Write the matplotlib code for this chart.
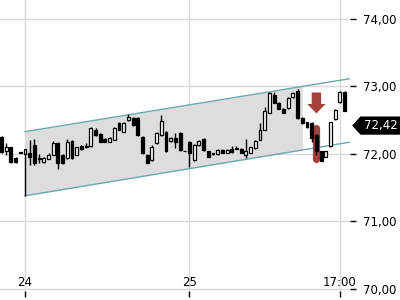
import matplotlib
matplotlib.use('Agg')
import matplotlib.pyplot as plt
from matplotlib.patches import Polygon
from matplotlib.ticker import FuncFormatter

# candle slots (one slot per bar, slot 0 = start of day 24)
slots = [-5, -4, -3, -2, -1] + list(range(0, 69))

opens = [72.25, 72.04, 72.10, 71.94, 72.03,
         72.00, 72.01, 72.13, 71.94, 71.88, 71.93, 71.99, 72.16, 71.99, 71.94,
         72.19, 71.99, 72.12, 72.12, 72.12, 72.36, 72.30, 72.22, 72.18, 72.21,
         72.46, 72.33, 72.50, 72.53, 72.53, 72.25, 71.99, 71.91, 72.16, 72.28,
         72.33, 72.19, 72.24, 72.31, 72.05, 72.18, 71.91, 72.13, 72.22, 72.04,
         72.01, 72.00, 72.06, 72.02, 72.08, 72.09, 72.08, 71.98, 72.02, 72.09,
         72.21, 72.36, 72.61, 72.87, 72.76, 72.67, 72.68, 72.84, 72.93, 72.53,
         72.47, 72.46, 72.28, 72.04, 71.96, 72.12, 72.52, 72.77, 72.92]
closes = [72.03, 72.10, 71.88, 71.88, 72.02,
          72.07, 71.96, 71.87, 71.92, 71.94, 71.99, 72.16, 71.87, 71.87, 72.18,
          71.94, 72.10, 72.07, 72.11, 72.39, 72.28, 72.18, 72.18, 72.24, 72.39,
          72.36, 72.46, 72.55, 72.43, 72.28, 72.01, 71.87, 72.10, 72.31, 72.49,
          72.04, 72.24, 72.18, 72.06, 72.04, 72.01, 72.13, 72.19, 72.06, 71.96,
          72.00, 72.06, 72.02, 72.06, 72.03, 72.08, 72.02, 72.04, 72.10, 72.19,
          72.36, 72.64, 72.90, 72.76, 72.67, 72.61, 72.83, 72.90, 72.53, 72.46,
          72.40, 72.24, 72.04, 71.90, 72.04, 72.47, 72.65, 72.92, 72.64]
highs = [72.26, 72.16, 72.11, 71.95, 72.03,
         72.08, 72.21, 72.22, 72.00, 71.95, 72.02, 72.19, 72.17, 72.00, 72.22,
         72.20, 72.11, 72.13, 72.16, 72.40, 72.38, 72.31, 72.23, 72.25, 72.40,
         72.47, 72.47, 72.59, 72.55, 72.54, 72.26, 72.00, 72.13, 72.32, 72.58,
         72.34, 72.25, 72.31, 72.32, 72.05, 72.19, 72.15, 72.20, 72.23, 72.05,
         72.02, 72.07, 72.07, 72.07, 72.12, 72.12, 72.09, 72.22, 72.11, 72.20,
         72.46, 72.70, 72.92, 72.91, 72.77, 72.68, 72.84, 72.91, 72.96, 72.54,
         72.48, 72.47, 72.29, 72.05, 72.05, 72.48, 72.66, 72.93, 72.93]
lows = [72.02, 71.99, 71.87, 71.87, 72.02,
        71.38, 71.84, 71.84, 71.87, 71.87, 71.92, 71.98, 71.78, 71.85, 71.93,
        71.93, 71.98, 72.06, 72.09, 72.11, 72.27, 72.17, 72.17, 72.17, 72.20,
        72.35, 72.32, 72.49, 72.42, 72.27, 72.00, 71.86, 71.90, 72.15, 72.27,
        72.03, 72.18, 72.09, 72.05, 72.04, 71.81, 71.90, 72.12, 72.05, 71.95,
        71.98, 71.99, 72.01, 72.01, 72.02, 72.08, 72.01, 71.94, 72.01, 72.08,
        72.20, 72.35, 72.60, 72.75, 72.66, 72.60, 72.67, 72.83, 72.52, 72.44,
        72.39, 72.18, 71.99, 71.89, 71.95, 72.11, 72.51, 72.76, 72.63]

# trend channel (start/end slot, upper and lower prices)
chan_x = [0, 69.6]
chan_upper = [72.33, 73.12]
chan_lower = [71.38, 72.18]
fill_end = 59

# signal marker
signal_slot = 62
arrow_top, arrow_bottom = 72.91, 72.60
bar_top, bar_bottom = 72.39, 71.92

last_price = 72.42
day_ticks = [0, 35, 67]
day_labels = ['24', '25', '17:00']
price_ticks = [70, 71, 72, 73, 74]

fig = plt.figure(figsize=(4, 3), dpi=100)
ax = fig.add_axes([0, 0.03, 0.875, 0.97])

ax.set_xlim(-5.32, 69.15)
ax.set_ylim(69.97, 74.28)

ax.grid(True, color='#dadada', linewidth=1)
ax.set_axisbelow(True)
for s in ax.spines.values():
    s.set_visible(False)

# channel
def line_at(x, pts):
    return pts[0] + (pts[1] - pts[0]) * (x - chan_x[0]) / (chan_x[1] - chan_x[0])

fx = [chan_x[0], fill_end]
ax.fill_between(fx, [line_at(x, chan_lower) for x in fx],
                [line_at(x, chan_upper) for x in fx], color='#dddddd', lw=0, zorder=1)
ax.plot(chan_x, chan_upper, color='#6aa9b0', lw=1, zorder=2)
ax.plot(chan_x, chan_lower, color='#6aa9b0', lw=1, zorder=2)

# red signal
red = '#a3413a'
ax.plot([signal_slot, signal_slot], [bar_top, bar_bottom], color=red, lw=5.2,
        solid_capstyle='round', zorder=3)
ax.arrow(signal_slot, arrow_top, 0, -(arrow_top - arrow_bottom), width=2.0,
         head_width=3.9, head_length=0.14, length_includes_head=True,
         color=red, lw=0, zorder=3)

# candles
ax.vlines(slots, lows, highs, color='black', lw=1, zorder=4)
bottoms = [min(o, c) for o, c in zip(opens, closes)]
heights = [max(abs(c - o), 0.004) for o, c in zip(opens, closes)]
colors = ['white' if c >= o else 'black' for o, c in zip(opens, closes)]
ax.bar(slots, heights, bottom=bottoms, width=0.62, color=colors,
       edgecolor='black', linewidth=0.9, zorder=5)

# axes ticks
ax.yaxis.tick_right()
ax.set_yticks(price_ticks)
ax.yaxis.set_major_formatter(FuncFormatter(lambda v, p: f'{v:.2f}'.replace('.', ',')))
ax.tick_params(axis='y', length=4, width=1, pad=5, labelsize=8.5, colors='black')
ax.set_xticks(day_ticks)
ax.set_xticklabels(day_labels)
ax.tick_params(axis='x', length=4, width=1, pad=-15, labelsize=8.5, direction='out')

# last price tag
tr = ax.get_yaxis_transform()
half = 0.135
tag = Polygon([(1.006, last_price), (1.03, last_price + half), (1.145, last_price + half),
               (1.145, last_price - half), (1.03, last_price - half)],
              closed=True, transform=tr, fc='black', ec='none', clip_on=False, zorder=6)
ax.add_patch(tag)
ax.text(1.087, last_price, f'{last_price:.2f}'.replace('.', ','), transform=tr,
        color='white', fontsize=8.5, va='center', ha='center', clip_on=False, zorder=7)

fig.savefig('out.png', dpi=100)
